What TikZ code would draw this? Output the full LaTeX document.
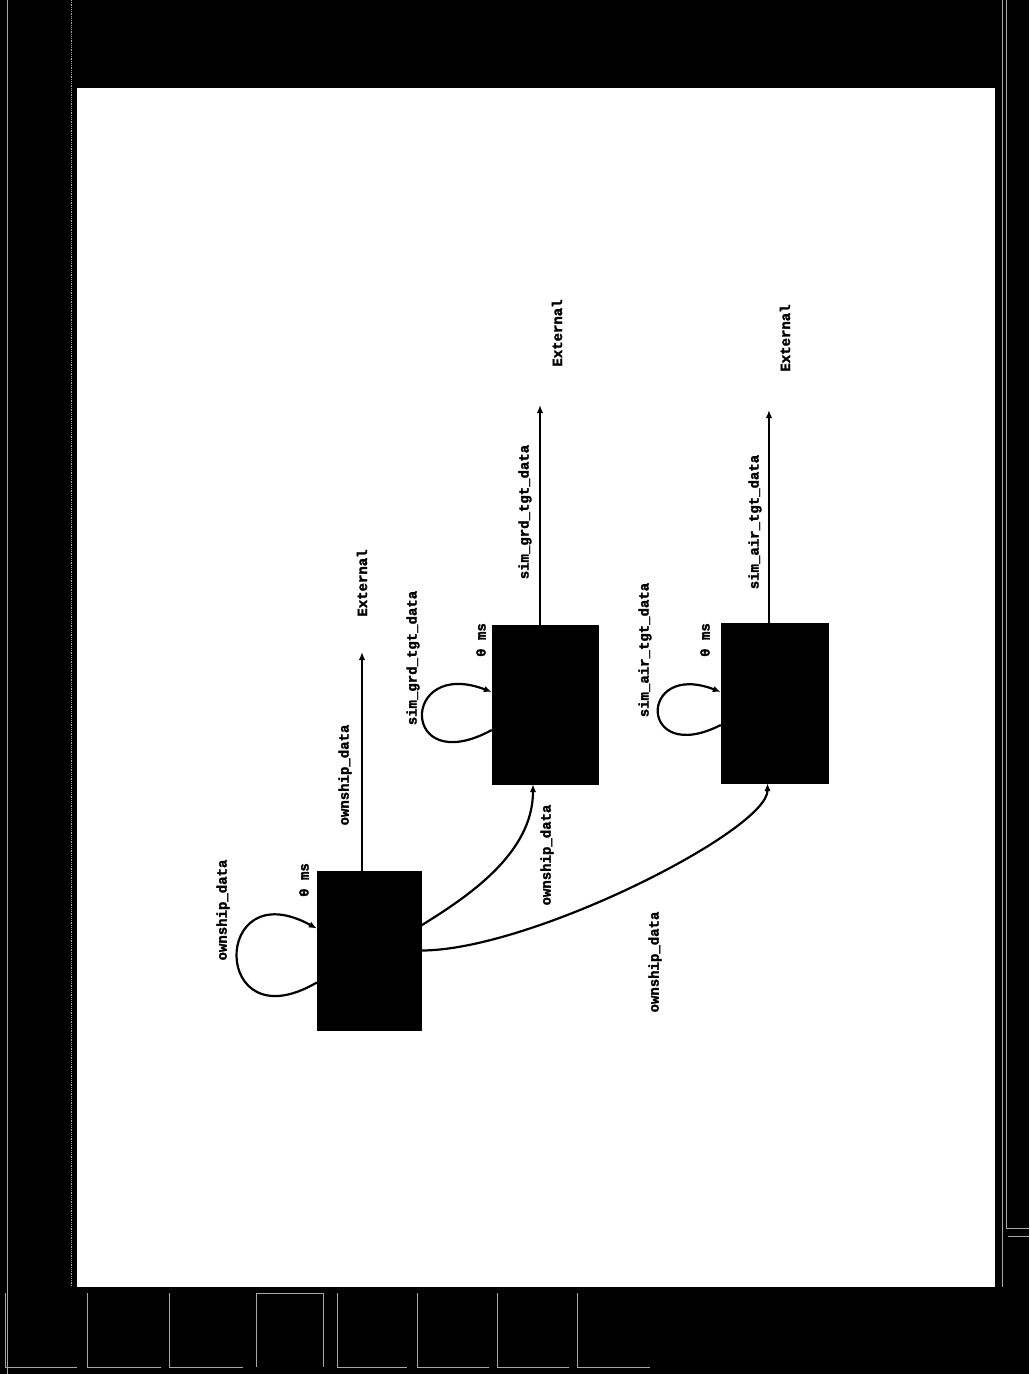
\documentclass[tikz,border=0pt]{standalone}
\usepackage{fontspec}
\newfontfamily\lblfont{Liberation Mono}[BoldFeatures={FakeBold=2}]
\usetikzlibrary{arrows.meta,calc}

\tikzset{
  blk/.style={draw=black, fill=black, inner sep=0pt, minimum width=104pt, minimum height=159pt},
  flow/.style={black, line width=2.2pt, -{Latex[length=8pt,width=6.5pt]}},
  lbl/.style={rotate=90, inner sep=0pt, font=\lblfont\bfseries\fontsize{14}{16}\selectfont},
  btn/.style={gray!70, line width=1pt}
}

\begin{document}
\begin{tikzpicture}[x=1pt,y=-1pt]
\useasboundingbox (0,0) rectangle (1029,1374);
\fill[black] (0,0) rectangle (1029,1374);
\fill[white] (77,88) rectangle (995,1287);
\draw[gray!70, line width=0.8pt] (7,0) -- (7,1374);
\draw[gray!70, line width=0.8pt, densely dotted] (71,0) -- (71,1287);
\draw[gray!70, line width=0.8pt] (1002,0) -- (1002,1287);
\draw[gray!70, line width=0.8pt] (1006,0) -- (1006,1228) -- (1029,1228);
\draw[gray!70, line width=0.8pt] (1008,1236) -- (1029,1236);
\foreach \xa/\xb in {5/77,87/161,169/243,337/407,417/489,497/569,577/650}
  \draw[btn] (\xa,1293) -- (\xa,1367) -- (\xb,1367);
\draw[btn] (256,1367) -- (256,1293) -- (323,1293) -- (323,1367);

\node[blk] (own) at (369,950.5) {};
\node[blk, minimum width=106pt] (grd) at (545,704.5) {};
\node[blk, minimum width=107pt, minimum height=160pt] (air) at (774.5,703) {};

\coordinate (ownout) at (362,652);
\coordinate (grdout) at (540,405);
\coordinate (airout) at (769,410);
\draw[flow] ($(own.north)+(-7,0)$) -- (ownout);
\draw[flow] ($(grd.north)+(-5,0)$) -- (grdout);
\draw[flow] ($(air.north)+(-5.5,0)$) -- (airout);

\draw[flow] ($(own.west)+(0,32)$) .. controls +(-106,62) and +(-106,-58) .. ($(own.west)+(0,-22)$);
\draw[flow] ($(grd.west)+(0,25.5)$) .. controls +(-92,50) and +(-92,-35) .. ($(grd.west)+(0,-12.5)$);
\draw[flow] ($(air.west)+(0,22)$) .. controls +(-83,42) and +(-83,-32) .. ($(air.west)+(0,-11)$);

\draw[flow] ($(own.east)+(0,-25)$) .. controls +(45,-28) and +(0,70) .. ($(grd.south)+(-12,0)$);
\draw[flow] (own.east) .. controls +(110,0) and +(0,47) .. ($(air.south)+(-7,0)$);

\node[lbl] (ext1) at (362,583) {External};
\node[lbl] (ext2) at (557,333) {External};
\node[lbl] (ext3) at (785,338) {External};
\node[lbl] (outlbl1) at (345,775) {ownship\_data};
\node[lbl] (outlbl2) at (525,512) {sim\_grd\_tgt\_data};
\node[lbl] (outlbl3) at (755,522) {sim\_air\_tgt\_data};
\node[lbl] (ms1) at (304,880) {0 ms};
\node[lbl] (ms2) at (481,640) {0 ms};
\node[lbl] (ms3) at (705,640) {0 ms};
\node[lbl] (looplbl1) at (223,910) {ownship\_data};
\node[lbl] (looplbl2) at (413,658) {sim\_grd\_tgt\_data};
\node[lbl] (looplbl3) at (645,650) {sim\_air\_tgt\_data};
\node[lbl] (inlbl2) at (547,855) {ownship\_data};
\node[lbl] (inlbl3) at (655,962) {ownship\_data};
\end{tikzpicture}
\end{document}
